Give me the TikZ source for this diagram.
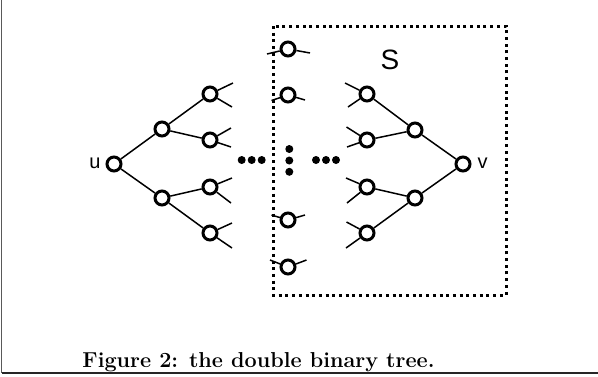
\documentclass[tikz,border=0pt]{standalone}
\usepackage{fontspec}
\newfontfamily\arialf{Liberation Sans}
\begin{document}
\begin{tikzpicture}[x=1pt,y=-1pt,
  vtx/.style={circle,draw,line width=3pt,minimum size=14pt,inner sep=0pt,fill=white},
  edg/.style={line width=1.5pt},
  bigdot/.style={circle,fill,inner sep=0pt,minimum size=8pt},
  lbl/.style={font=\arialf\fontsize{20}{20}\selectfont},
  sbox/.style={line width=3pt,dash pattern=on 3pt off 3.7pt}
]
\useasboundingbox (0,0) rectangle (598,376);
% outer frame (left and bottom)
\draw[line width=1.6pt,black!65] (1.5,0) -- (1.5,373);
\draw[line width=1.6pt,black!85] (1.5,373) -- (598,373);
% dotted box S
\draw[sbox] (273,26) rectangle (506,295);
\node[font=\arialf\fontsize{28}{28}\selectfont] (S) at (390,60) {S};
% left tree
\node[vtx] (u) at (114,164) {};
\node[vtx] (a1) at (162,129) {};
\node[vtx] (a2) at (162,198) {};
\node[vtx] (b1) at (210,94) {};
\node[vtx] (b2) at (210,140) {};
\node[vtx] (b3) at (210,187) {};
\node[vtx] (b4) at (210,233) {};
\node[lbl,anchor=east] (ul) at (104,163) {u};
\draw[edg] (u) -- (a1) (u) -- (a2) (a1) -- (b1) (a1) -- (b2) (a2) -- (b3) (a2) -- (b4);
\coordinate (b1u) at (233,83); \coordinate (b1d) at (232,107);
\coordinate (b2u) at (231,128); \coordinate (b2d) at (231,147);
\coordinate (b3u) at (232,178); \coordinate (b3d) at (231,203);
\coordinate (b4u) at (232,223); \coordinate (b4d) at (232,248);
\foreach \n in {b1,b2,b3,b4}{\draw[edg] (\n) -- (\n u); \draw[edg] (\n) -- (\n d);}
% right tree
\node[vtx] (v) at (463,164) {};
\node[vtx] (c1) at (415,130) {};
\node[vtx] (c2) at (415,198) {};
\node[vtx] (d1) at (367,94) {};
\node[vtx] (d2) at (367,140) {};
\node[vtx] (d3) at (367,187) {};
\node[vtx] (d4) at (367,233) {};
\node[lbl,anchor=west] (vl) at (474,163) {v};
\draw[edg] (v) -- (c1) (v) -- (c2) (c1) -- (d1) (c1) -- (d2) (c2) -- (d3) (c2) -- (d4);
\coordinate (d1u) at (345,83); \coordinate (d1d) at (348,107);
\coordinate (d2u) at (346.5,127); \coordinate (d2d) at (347,147);
\coordinate (d3u) at (346,178); \coordinate (d3d) at (347,203);
\coordinate (d4u) at (346.5,222); \coordinate (d4d) at (346,248);
\foreach \n in {d1,d2,d3,d4}{\draw[edg] (\n) -- (\n u); \draw[edg] (\n) -- (\n d);}
% column at the box edge
\node[vtx] (e1) at (288,49) {};
\node[vtx] (e2) at (288,95) {};
\node[vtx] (e3) at (288,220) {};
\node[vtx] (e4) at (288,267) {};
\coordinate (e1l) at (267,54); \coordinate (e1r) at (310,53);
\coordinate (e2l) at (271.5,100.5); \coordinate (e2r) at (305,100);
\coordinate (e3l) at (271.5,215); \coordinate (e3r) at (305,215);
\coordinate (e4l) at (270,260); \coordinate (e4r) at (306.5,260);
\foreach \n in {e1,e2,e3,e4}{\draw[edg] (\n) -- (\n l); \draw[edg] (\n) -- (\n r);}
% dots
\node[bigdot] (p1) at (241.7,160) {};
\node[bigdot] (p2) at (251.7,160) {};
\node[bigdot] (p3) at (261.7,160) {};
\node[bigdot] (q1) at (289.3,149) {};
\node[bigdot] (q2) at (289.3,160.5) {};
\node[bigdot] (q3) at (289.3,171.8) {};
\node[bigdot] (r1) at (316,160) {};
\node[bigdot] (r2) at (326,160) {};
\node[bigdot] (r3) at (336,160) {};
% caption
\node[anchor=base,font=\fontsize{21.6}{24}\bfseries\selectfont] (cap) at (258.5,367) {Figure 2: the double binary tree.};
\end{tikzpicture}
\end{document}
